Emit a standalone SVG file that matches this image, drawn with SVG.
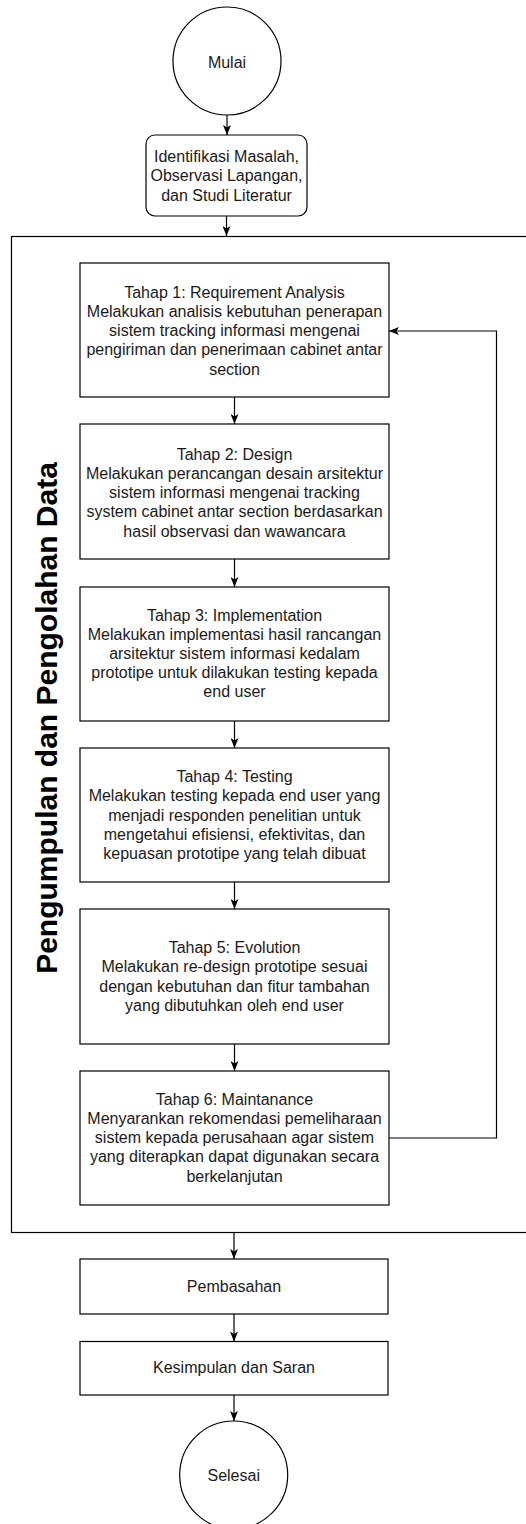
<svg xmlns="http://www.w3.org/2000/svg" width="526" height="1524" viewBox="0 0 526 1524">
<style>
.shape{fill:#fff;stroke:#000;stroke-width:1.2}
.t{font-family:"Liberation Sans",Arial,sans-serif;font-size:16px;fill:#1a1a1a;text-anchor:middle}
.title{font-family:"Liberation Sans",Arial,sans-serif;font-size:30px;font-weight:bold;fill:#000;text-anchor:middle}
.conn{fill:none;stroke:#000;stroke-width:1.2}
</style>
<defs>
<marker id="arr" viewBox="0 0 10 8" refX="10" refY="4" markerWidth="10" markerHeight="8" markerUnits="userSpaceOnUse" orient="auto">
<path d="M0,0 L10,4 L0,8 L2.5,4 z" fill="#000"/>
</marker>
</defs>
<rect width="526" height="1524" fill="#fff"/>
<g id="container">
<rect class="shape" x="11.5" y="236.5" width="530" height="996" fill="none"/>
<text class="title" transform="translate(57,718) rotate(-90)" x="0" y="0">Pengumpulan dan Pengolahan Data</text>
</g>
<g id="connectors">
<path class="conn" d="M227,115 V135" marker-end="url(#arr)"/>
<path class="conn" d="M226.5,216 V236" marker-end="url(#arr)"/>
<path class="conn" d="M234.5,397 V424" marker-end="url(#arr)"/>
<path class="conn" d="M234.5,559 V587" marker-end="url(#arr)"/>
<path class="conn" d="M234.5,721 V748" marker-end="url(#arr)"/>
<path class="conn" d="M234.5,882 V909" marker-end="url(#arr)"/>
<path class="conn" d="M234.5,1044 V1071" marker-end="url(#arr)"/>
<path class="conn" d="M234,1233 V1259" marker-end="url(#arr)"/>
<path class="conn" d="M234,1314 V1341.5" marker-end="url(#arr)"/>
<path class="conn" d="M234,1395 V1421" marker-end="url(#arr)"/>
<path class="conn" d="M389,1138 H496.5 V331 H389" marker-end="url(#arr)"/>
</g>
<g id="mulai">
<circle class="shape" cx="227" cy="61" r="54"/>
<text class="t" x="227" y="67.8">Mulai</text>
</g>
<g id="identifikasi">
<rect class="shape" x="146" y="135" width="161" height="81" rx="9"/>
<text class="t" x="226.5" y="162.2">Identifikasi Masalah,</text>
<text class="t" x="226.5" y="181.4">Observasi Lapangan,</text>
<text class="t" x="226.5" y="200.6">dan Studi Literatur</text>
</g>
<g id="tahap1">
<rect class="shape" x="80" y="263" width="309" height="134"/>
<text class="t" x="234.5" y="297.8">Tahap 1: Requirement Analysis</text>
<text class="t" x="234.5" y="317">Melakukan analisis kebutuhan penerapan</text>
<text class="t" x="234.5" y="336.2">sistem tracking informasi mengenai</text>
<text class="t" x="234.5" y="355.4">pengiriman dan penerimaan cabinet antar</text>
<text class="t" x="234.5" y="374.6">section</text>
</g>
<g id="tahap2">
<rect class="shape" x="80" y="424" width="309" height="135"/>
<text class="t" x="234.5" y="459.8">Tahap 2: Design</text>
<text class="t" x="234.5" y="479">Melakukan perancangan desain arsitektur</text>
<text class="t" x="234.5" y="498.2">sistem informasi mengenai tracking</text>
<text class="t" x="234.5" y="517.4">system cabinet antar section berdasarkan</text>
<text class="t" x="234.5" y="536.6">hasil observasi dan wawancara</text>
</g>
<g id="tahap3">
<rect class="shape" x="80" y="587" width="309" height="134"/>
<text class="t" x="234.5" y="620.5">Tahap 3: Implementation</text>
<text class="t" x="234.5" y="639.7">Melakukan implementasi hasil rancangan</text>
<text class="t" x="234.5" y="658.9">arsitektur sistem informasi kedalam</text>
<text class="t" x="234.5" y="678.1">prototipe untuk dilakukan testing kepada</text>
<text class="t" x="234.5" y="697.3">end user</text>
</g>
<g id="tahap4">
<rect class="shape" x="80" y="748" width="309" height="134"/>
<text class="t" x="234.5" y="782.2">Tahap 4: Testing</text>
<text class="t" x="234.5" y="801.4">Melakukan testing kepada end user yang</text>
<text class="t" x="234.5" y="820.6">menjadi responden penelitian untuk</text>
<text class="t" x="234.5" y="839.8">mengetahui efisiensi, efektivitas, dan</text>
<text class="t" x="234.5" y="859">kepuasan prototipe yang telah dibuat</text>
</g>
<g id="tahap5">
<rect class="shape" x="80" y="909" width="309" height="135"/>
<text class="t" x="234.5" y="953.2">Tahap 5: Evolution</text>
<text class="t" x="234.5" y="972.4">Melakukan re-design prototipe sesuai</text>
<text class="t" x="234.5" y="991.6">dengan kebutuhan dan fitur tambahan</text>
<text class="t" x="234.5" y="1010.8">yang dibutuhkan oleh end user</text>
</g>
<g id="tahap6">
<rect class="shape" x="80" y="1071" width="309" height="134"/>
<text class="t" x="234.5" y="1104.8">Tahap 6: Maintanance</text>
<text class="t" x="234.5" y="1124">Menyarankan rekomendasi pemeliharaan</text>
<text class="t" x="234.5" y="1143.2">sistem kepada perusahaan agar sistem</text>
<text class="t" x="234.5" y="1162.4">yang diterapkan dapat digunakan secara</text>
<text class="t" x="234.5" y="1181.6">berkelanjutan</text>
</g>
<g id="pembasahan">
<rect class="shape" x="80" y="1259" width="308" height="55"/>
<text class="t" x="234" y="1292.2">Pembasahan</text>
</g>
<g id="kesimpulan">
<rect class="shape" x="80" y="1341.5" width="308" height="53.5"/>
<text class="t" x="234" y="1373.2">Kesimpulan dan Saran</text>
</g>
<g id="selesai">
<circle class="shape" cx="233.7" cy="1475" r="54"/>
<text class="t" x="233.7" y="1480.5">Selesai</text>
</g>
</svg>
